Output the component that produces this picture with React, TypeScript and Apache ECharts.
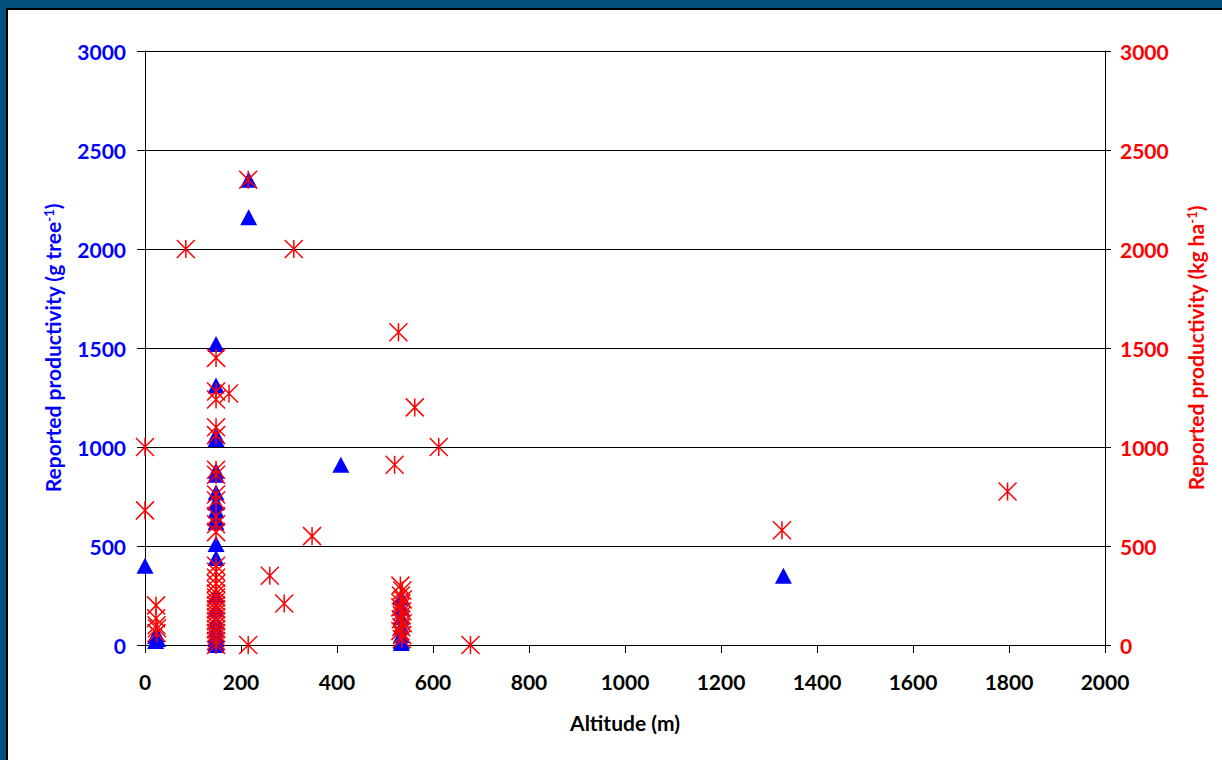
import React, { useEffect, useRef } from "react";
import * as echarts from "echarts";

// Blue series: reported productivity (g tree^-1), left axis
const treeAltitudes = [
  0, 22, 22, 24, 26,
  148, 148, 148, 148, 148, 148, 148, 148, 148, 148, 148, 148, 148, 148, 148, 148, 148, 148, 148, 148, 148,
  216, 216,
  408,
  534, 534, 534, 534, 534, 534, 534,
  1330,
];
const treeValues = [
  400, 20, 45, 55, 30,
  1520, 1310, 1060, 1040, 880, 860, 770, 720, 680, 640, 620, 510, 440, 250, 180, 120, 80, 50, 30, 10, 0,
  2350, 2160,
  910,
  20, 50, 90, 140, 190, 240, 10,
  350,
];

// Red series: reported productivity (kg ha^-1), right axis
const haAltitudes = [
  0, 0,
  23, 23, 24, 25, 24,
  85,
  148, 148, 148, 148, 148, 148, 148, 148, 148, 148, 148, 148, 148, 148, 148, 148, 148, 148, 148, 148, 148, 148, 148, 148, 148, 148, 148, 148, 148, 148, 148,
  175,
  215, 215,
  260, 290, 310, 348,
  520, 528, 562, 612,
  532, 536, 533, 537, 534, 532, 536, 535, 533, 537, 534, 532, 536, 535,
  678, 1327, 1797,
];
const haValues = [
  1000, 680,
  200, 135, 100, 85, 60,
  2000,
  1450, 1280, 1240, 1100, 1060, 885, 860, 760, 730, 650, 610, 570, 400, 370, 340, 310, 280, 260, 240, 220, 200, 180, 160, 140, 120, 100, 80, 60, 40, 20, 0,
  1270,
  2350, 0,
  350, 210, 2000, 550,
  910, 1580, 1200, 1000,
  300, 275, 250, 230, 210, 190, 170, 150, 130, 110, 90, 70, 50, 30,
  0, 580, 775,
];

const xTicks = { min: 0, max: 2000, interval: 200 };
const yTicks = { min: 0, max: 3000, interval: 500 };

const FONT = "Lato";
const TICK_SIZE = 21;
const NAME_SIZE = 21;
const plain = (v: number) => String(v);

export default function App() {
  const ref = useRef<HTMLDivElement>(null);

  useEffect(() => {
    if (!ref.current) return;
    const chart = echarts.init(ref.current, undefined, { renderer: "svg" });
    const treeData = treeAltitudes.map((x, i) => [x, treeValues[i]]);
    const haData = haAltitudes.map((x, i) => [x, haValues[i]]);

    chart.setOption({
      animation: false,
      grid: { left: 145, right: 117, top: 51, bottom: 115, containLabel: false },
      xAxis: {
        type: "value",
        min: xTicks.min,
        max: xTicks.max,
        interval: xTicks.interval,
        name: "Altitude (m)",
        nameLocation: "middle",
        nameGap: 67,
        nameTextStyle: { color: "#000", fontWeight: "bold", fontSize: NAME_SIZE, fontFamily: FONT },
        axisLine: { show: true, onZero: false, lineStyle: { color: "#000", width: 1 } },
        axisTick: { show: true, inside: false, length: 8, lineStyle: { color: "#000" } },
        axisLabel: { color: "#000", fontWeight: "bold", fontSize: TICK_SIZE, fontFamily: FONT, margin: 26, formatter: plain },
        splitLine: { show: false },
      },
      yAxis: [
        {
          type: "value",
          position: "left",
          min: yTicks.min,
          max: yTicks.max,
          interval: yTicks.interval,
          name: "Reported productivity (g tree{sup|-1})",
          nameLocation: "middle",
          nameRotate: 90,
          nameGap: 82,
          nameTextStyle: {
            color: "#0000ff",
            fontWeight: "bold",
            fontSize: NAME_SIZE,
            fontFamily: FONT,
            rich: {
              sup: { color: "#0000ff", fontWeight: "bold", fontSize: 13, fontFamily: FONT, verticalAlign: "top" },
            },
          },
          axisLine: { show: true, onZero: false, lineStyle: { color: "#000", width: 1 } },
          axisTick: { show: true, inside: false, length: 8, lineStyle: { color: "#000" } },
          axisLabel: { color: "#0000ff", fontWeight: "bold", fontSize: TICK_SIZE, fontFamily: FONT, margin: 19, formatter: plain },
          splitLine: { show: true, lineStyle: { color: "#000", width: 1 } },
        },
        {
          type: "value",
          position: "right",
          min: yTicks.min,
          max: yTicks.max,
          interval: yTicks.interval,
          name: "Reported productivity (kg ha{sup|-1})",
          nameLocation: "middle",
          nameRotate: 90,
          nameGap: 80,
          nameTextStyle: {
            color: "#ff0000",
            fontWeight: "bold",
            fontSize: NAME_SIZE,
            fontFamily: FONT,
            rich: {
              sup: { color: "#ff0000", fontWeight: "bold", fontSize: 13, fontFamily: FONT, verticalAlign: "top" },
            },
          },
          axisLine: { show: true, onZero: false, lineStyle: { color: "#000", width: 1 } },
          axisTick: { show: true, inside: false, length: 6, lineStyle: { color: "#000" } },
          axisLabel: { color: "#ff0000", fontWeight: "bold", fontSize: TICK_SIZE, fontFamily: FONT, margin: 15, formatter: plain },
          splitLine: { show: false },
        },
      ],
      series: [
        {
          type: "scatter",
          yAxisIndex: 0,
          data: treeData,
          symbol: "triangle",
          symbolSize: [17, 16],
          itemStyle: { color: "#0000ff", opacity: 1 },
          z: 2,
        },
        {
          type: "scatter",
          yAxisIndex: 1,
          data: haData,
          symbol: "path://M0,0L20,20M20,0L0,20M10,0L10,20",
          symbolSize: [18, 18],
          itemStyle: { color: "rgba(0,0,0,0)", borderColor: "#ff0000", borderWidth: 1.5, opacity: 1 },
          z: 3,
        },
      ],
    });
    return () => chart.dispose();
  }, []);

  return (
    <div style={{ position: "absolute", left: 0, top: 0, width: 1222, height: 760, background: "#014f7c", overflow: "hidden" }}>
      <div
        style={{
          position: "absolute",
          left: 6,
          top: 8,
          width: 1222,
          height: 760,
          background: "#fff",
          borderLeft: "2px solid #000",
          borderTop: "2px solid #000",
        }}
      />
      <div ref={ref} style={{ position: "absolute", left: 0, top: 0, width: 1222, height: 760 }} />
    </div>
  );
}
